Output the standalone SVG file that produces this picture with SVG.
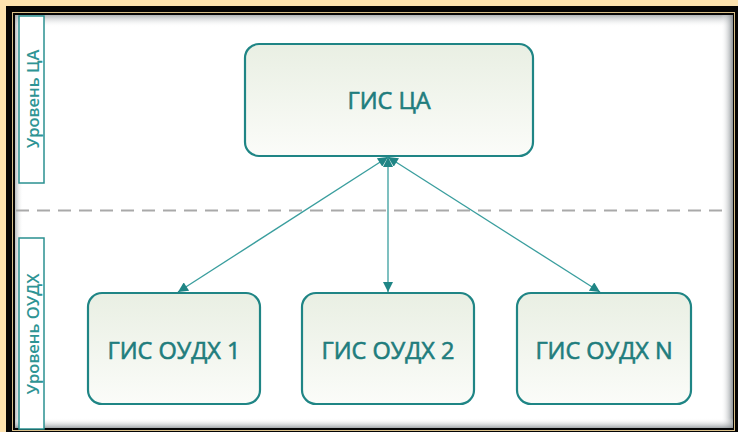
<svg xmlns="http://www.w3.org/2000/svg" width="738" height="432" viewBox="0 0 738 432">
<defs>
<style>
.node{fill:url(#ng);stroke:#1f8585;stroke-width:2.2}
.nt{font-family:"Open Sans","Liberation Sans",sans-serif;font-size:23.5px;font-weight:400;fill:#1f7d7d;stroke:#1f7d7d;stroke-width:0.6;text-anchor:middle;dominant-baseline:central}
.lb{fill:#fff;stroke:#2a9090;stroke-width:1.5}
.lt{font-family:"Open Sans","Liberation Sans",sans-serif;font-size:16.5px;font-weight:600;fill:#2e9494;text-anchor:middle;dominant-baseline:central}
.conn{stroke:#3a9e9e;stroke-width:1.3;fill:none;marker-start:url(#ah);marker-end:url(#ah)}
</style>
<linearGradient id="ng" x1="0" y1="0" x2="0" y2="1">
<stop offset="0" stop-color="#e9efe3"/>
<stop offset="1" stop-color="#fbfcf9"/>
</linearGradient>
<linearGradient id="shT" x1="0" y1="0" x2="0" y2="1">
<stop offset="0" stop-color="#9aa0a4" stop-opacity="0.8"/>
<stop offset="1" stop-color="#ffffff" stop-opacity="0"/>
</linearGradient>
<linearGradient id="shR" x1="1" y1="0" x2="0" y2="0">
<stop offset="0" stop-color="#7f868a" stop-opacity="0.9"/>
<stop offset="1" stop-color="#ffffff" stop-opacity="0"/>
</linearGradient>
<linearGradient id="shL" x1="0" y1="0" x2="1" y2="0">
<stop offset="0" stop-color="#9aa0a4" stop-opacity="0.7"/>
<stop offset="1" stop-color="#ffffff" stop-opacity="0"/>
</linearGradient>
<linearGradient id="shB" x1="0" y1="1" x2="0" y2="0">
<stop offset="0" stop-color="#8a9094" stop-opacity="0.8"/>
<stop offset="1" stop-color="#ffffff" stop-opacity="0"/>
</linearGradient>
<marker id="ah" viewBox="0 0 10 10" refX="10" refY="5" markerWidth="11" markerHeight="10" markerUnits="userSpaceOnUse" orient="auto-start-reverse">
<path d="M0,0 L10,5 L0,10 z" fill="#1f8585"/>
</marker>
</defs>
<rect x="0" y="0" width="738" height="432" fill="#fde3b0"/>
<rect x="6" y="6" width="732" height="426" fill="#050505"/>
<rect x="12.5" y="12.5" width="722" height="418" fill="none" stroke="#d9c08a" stroke-width="1"/>
<rect x="15" y="15" width="718" height="413" fill="#ffffff"/>
<rect x="15" y="15" width="718" height="12" fill="url(#shT)"/>
<rect x="15" y="15" width="8" height="413" fill="url(#shL)"/>
<rect x="721" y="15" width="12" height="413" fill="url(#shR)"/>
<rect x="15" y="418" width="718" height="10" fill="url(#shB)"/>

<line x1="16" y1="210.5" x2="726" y2="210.5" stroke="#a9a9a9" stroke-width="2" stroke-dasharray="13,8"/>

<g id="level-ca">
<rect class="lb" x="19" y="16" width="25" height="167"/>
<text class="lt" transform="translate(32,99) rotate(-90)">Уровень ЦА</text>
</g>
<g id="level-oudh">
<rect class="lb" x="19" y="238" width="25" height="191"/>
<text class="lt" transform="translate(32,334) rotate(-90)">Уровень ОУДХ</text>
</g>

<g id="connectors">
<line class="conn" x1="388" y1="157" x2="178" y2="292"/>
<line class="conn" x1="388" y1="157" x2="388" y2="292"/>
<line class="conn" x1="388" y1="157" x2="600" y2="292"/>
</g>

<g id="gis-ca">
<rect class="node" x="245" y="44" width="288" height="112" rx="14"/>
<text class="nt" x="389" y="100">ГИС ЦА</text>
</g>
<g id="gis-oudh-1">
<rect class="node" x="88" y="293" width="172" height="111" rx="14"/>
<text class="nt" x="174" y="350">ГИС ОУДХ 1</text>
</g>
<g id="gis-oudh-2">
<rect class="node" x="302" y="293" width="172" height="111" rx="14"/>
<text class="nt" x="388" y="350">ГИС ОУДХ 2</text>
</g>
<g id="gis-oudh-n">
<rect class="node" x="517" y="293" width="174" height="111" rx="14"/>
<text class="nt" x="604" y="350">ГИС ОУДХ N</text>
</g>
</svg>
